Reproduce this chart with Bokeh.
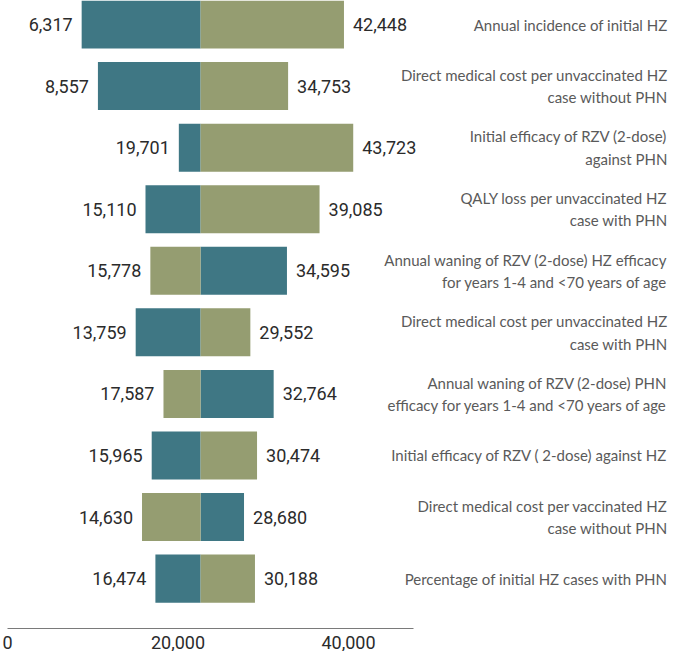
from bokeh.plotting import figure
from bokeh.models import (ColumnDataSource, Range1d, LinearAxis, FixedTicker,
                          NumeralTickFormatter)
from bokeh.core.properties import value
from bokeh.embed import file_html
from bokeh.resources import INLINE

# ---------------- data ----------------
parameters = [
    "Annual incidence of initial HZ",
    "Direct medical cost per unvaccinated HZ\ncase without PHN",
    "Initial efficacy of RZV (2-dose)\nagainst PHN",
    "QALY loss per unvaccinated HZ\ncase with PHN",
    "Annual waning of RZV (2-dose) HZ efficacy\nfor years 1-4 and <70 years of age",
    "Direct medical cost per unvaccinated HZ\ncase with PHN",
    "Annual waning of RZV (2-dose) PHN\nefficacy for years 1-4 and <70 years of age",
    "Initial efficacy of RZV ( 2-dose) against HZ",
    "Direct medical cost per vaccinated HZ\ncase without PHN",
    "Percentage of initial HZ cases with PHN",
]
teal_values = [6317, 8557, 19701, 15110, 34595, 13759, 32764, 15965, 28680, 16474]
olive_values = [42448, 34753, 43723, 39085, 15778, 29552, 17587, 30474, 14630, 30188]
base_value = 22700
axis_ticks = [0, 20000, 40000]

TEAL = "#3f7784"
OLIVE = "#959d71"

n = len(parameters)
ypos = [n - 1 - i for i in range(n)]

W, H = 669, 651
px_per_unit = 7.26 / 1000.0
zero_px = 35.3
x_start = -zero_px / px_per_unit
x_end = x_start + W / px_per_unit
label_x = (667 - zero_px) / px_per_unit

p = figure(width=W, height=H, output_backend="svg", toolbar_location=None,
           x_range=Range1d(x_start, x_end), y_range=Range1d(-0.81, n - 1 + 0.39),
           x_axis_location=None, y_axis_location=None,
           min_border_left=0, min_border_right=0, min_border_top=0, min_border_bottom=0)
p.outline_line_color = None
p.xgrid.visible = False
p.ygrid.visible = False
p.background_fill_color = "white"
p.border_fill_color = "white"

num_font = value("Roboto")

for vals, col in ((teal_values, TEAL), (olive_values, OLIVE)):
    src = ColumnDataSource(dict(
        y=ypos,
        left=[base_value] * n,
        right=vals,
        txt=[f"{v:,}" for v in vals],
        align=["right" if v < base_value else "left" for v in vals],
        off=[-9 if v < base_value else 9 for v in vals],
    ))
    p.hbar(y="y", left="left", right="right", height=0.78, source=src,
           fill_color=col, line_color=None)
    p.text(x="right", y="y", text="txt", source=src, text_align="align",
           x_offset="off", text_baseline="middle", text_font=num_font,
           text_font_size="18px", text_color="#2b2b2b")

label_src = ColumnDataSource(dict(y=ypos, txt=parameters, x=[label_x] * n))
p.text(x="x", y="y", text="txt", source=label_src, text_align="right",
       text_baseline="middle", text_font=value("Lato"), text_font_size="15px",
       text_color="#5a5a5a", text_line_height=1.25)

# bottom axis (as drawn in the source figure)
ax_px0 = 7
ax_scale = 341 / 40000
p.extra_x_ranges = {"axis": Range1d(-ax_px0 / ax_scale, (W - ax_px0) / ax_scale)}
ax = LinearAxis(x_range_name="axis", ticker=FixedTicker(ticks=axis_ticks),
                formatter=NumeralTickFormatter(format="0,0"),
                bounds=(0, (413 - ax_px0) / ax_scale))
ax.axis_line_color = "#7a7a7a"
ax.axis_line_width = 1
ax.major_tick_line_color = None
ax.minor_tick_line_color = None
ax.major_tick_out = 0
ax.major_tick_in = 0
ax.major_label_standoff = 7
ax.major_label_text_font = "Roboto"
ax.major_label_text_font_size = "18px"
ax.major_label_text_color = "#2b2b2b"
p.add_layout(ax, "below")

open("out.html", "w").write(file_html(p, INLINE))
